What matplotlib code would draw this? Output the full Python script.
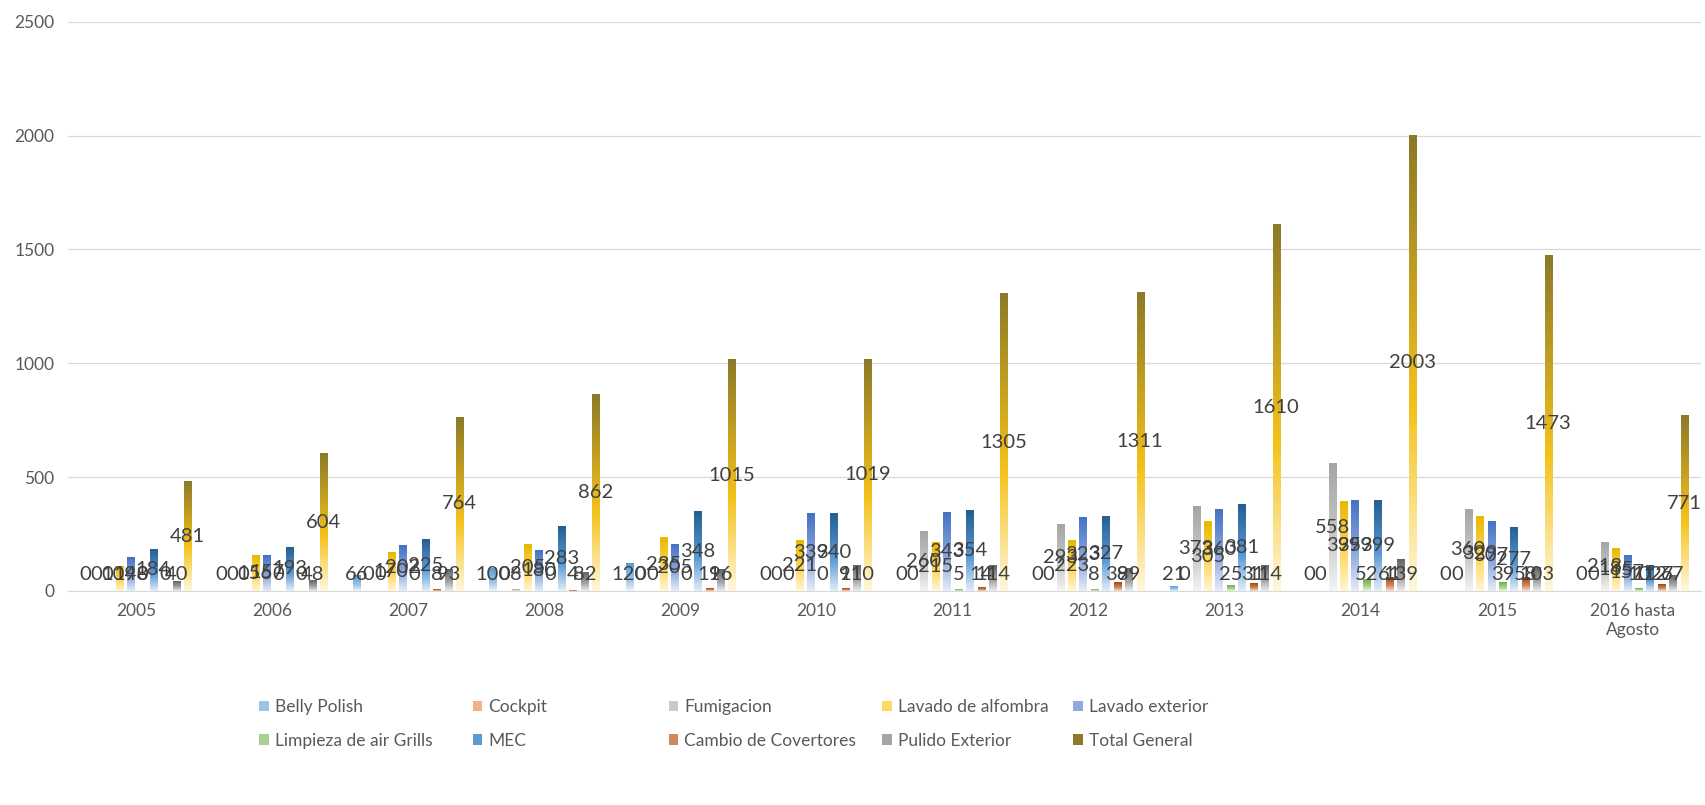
import matplotlib
matplotlib.use("Agg")
import matplotlib.pyplot as plt
import numpy as np
from matplotlib.colors import LinearSegmentedColormap
from matplotlib.patches import Patch

YEARS = ["2005", "2006", "2007", "2008", "2009", "2010",
         "2011", "2012", "2013", "2014", "2015", "2016 hasta\nAgosto"]

SERIES = ["Belly Polish", "Cockpit", "Fumigacion", "Lavado de alfombra",
          "Lavado exterior", "Limpieza de air Grills", "MEC",
          "Cambio de Covertores", "Pulido Exterior", "Total General"]

belly_polish = [0, 0, 66, 100, 120, 0, 0, 0, 21, 0, 0, 0]
cockpit = [0, 0, 0, 0, 0, 0, 0, 0, 0, 0, 0, 0]
fumigacion = [0, 0, 0, 8, 0, 0, 260, 293, 373, 558, 360, 213]
lavado_alfombra = [109, 156, 170, 205, 235, 221, 215, 223, 305, 395, 329, 185]
lavado_exterior = [148, 157, 202, 180, 205, 339, 343, 323, 360, 399, 307, 157]
limpieza_grills = [0, 0, 0, 0, 0, 0, 5, 8, 25, 52, 39, 10]
mec = [184, 193, 225, 283, 348, 340, 354, 327, 381, 399, 277, 112]
cambio_covertores = [0, 0, 8, 4, 11, 9, 14, 38, 31, 61, 58, 27]
pulido_exterior = [40, 48, 93, 82, 96, 110, 114, 99, 114, 139, 103, 67]
total_general = [481, 604, 764, 862, 1015, 1019, 1305, 1311, 1610, 2003, 1473, 771]

VALUES = [belly_polish, cockpit, fumigacion, lavado_alfombra, lavado_exterior,
          limpieza_grills, mec, cambio_covertores, pulido_exterior, total_general]

# gradient stops per series: top, middle, bottom
TOP = ["#5B9BD5", "#ED7D31", "#A5A5A5", "#E8B800", "#4472C4",
       "#70AD47", "#255E91", "#9E480E", "#636363", "#8C7A28"]
MID = ["#9DC3E6", "#F4B183", "#C9C9C9", "#FFD966", "#8FAADC",
       "#A9D18E", "#5B9BD5", "#D0875A", "#A5A5A5", "#F5C21B"]
BOTTOM = ["#EEF5FB", "#FCEBDD", "#F4F4F4", "#FFF6D5", "#E6EDF8",
          "#EDF6E7", "#E3EEF8", "#F6E3D6", "#EDEDED", "#FFF7DA"]

TEXT = "#595959"
plt.rcParams["font.family"] = ["Lato", "DejaVu Sans"]

fig = plt.figure(figsize=(17.06, 8.05), dpi=100)
ax = fig.add_axes([0.04, 0.266, 0.957, 0.707])

n_series = len(SERIES)
slot = 0.084
bar_w = 0.052
x = np.arange(len(YEARS))
grad = np.linspace(0, 1, 128).reshape(-1, 1)

for i, (name, vals) in enumerate(zip(SERIES, VALUES)):
    cmap = LinearSegmentedColormap.from_list(
        name, [(0, BOTTOM[i]), (0.4, MID[i]), (1, TOP[i])])
    offs = (i - (n_series - 1) / 2) * slot
    for xc, v in zip(x, vals):
        x0 = xc + offs - bar_w / 2
        if v > 0:
            ax.imshow(grad, cmap=cmap, origin="lower", aspect="auto",
                      extent=[x0, x0 + bar_w, 0, v], interpolation="bilinear",
                      zorder=2)
        # labels centred in the bar, kept just above the axis for small values
        ax.text(xc + offs, max(v / 2, 70), str(v), ha="center", va="center",
                fontsize=14.5, color="#404040", zorder=3)

ax.set_xlim(-0.5, len(YEARS) - 0.5)
ax.set_ylim(0, 2500)
ax.set_yticks(range(0, 2501, 500))
ax.set_xticks(x)
ax.set_xticklabels(YEARS, fontsize=12.5, color=TEXT)
ax.tick_params(axis="y", labelsize=12.5, labelcolor=TEXT, length=0, pad=10)
ax.tick_params(axis="x", length=0, pad=9)
ax.grid(axis="y", color="#D9D9D9", linewidth=0.9, zorder=0)
ax.set_axisbelow(True)
for side in ["top", "right", "left"]:
    ax.spines[side].set_visible(False)
ax.spines["bottom"].set_color("#D9D9D9")

# legend: 5 evenly spaced columns, two rows
col_x = [0.148, 0.273, 0.388, 0.513, 0.625]
for c in range(5):
    handles = [Patch(facecolor=MID[k] if k != 9 else TOP[k], edgecolor="none")
               for k in (c, c + 5)]
    leg = fig.legend(handles, [SERIES[c], SERIES[c + 5]], loc="upper left",
                     bbox_to_anchor=(col_x[c], 0.14), frameon=False,
                     fontsize=12.5, handlelength=0.55, handleheight=0.55,
                     handletextpad=0.35, labelspacing=1.0, borderaxespad=0)
    for t in leg.get_texts():
        t.set_color(TEXT)

fig.savefig("out.png", dpi=100)
